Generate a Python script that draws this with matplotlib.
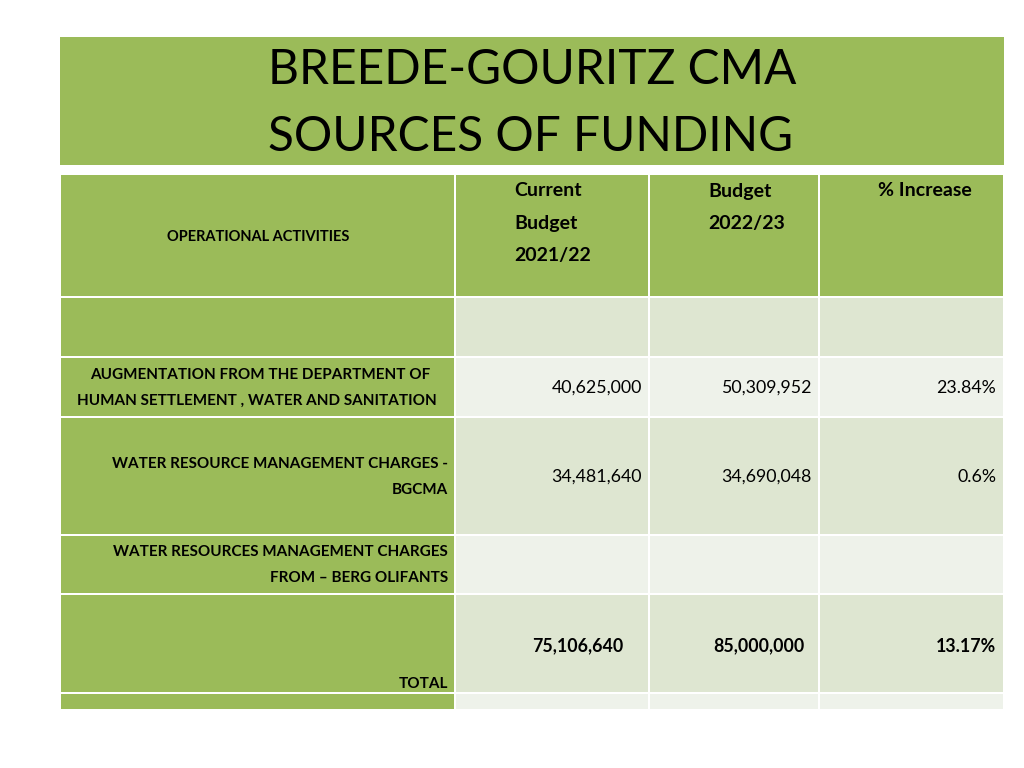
import matplotlib.pyplot as plt
from matplotlib.patches import Rectangle

plt.rcParams['font.family'] = ['Lato', 'DejaVu Sans']

title_lines = ['BREEDE-GOURITZ CMA', 'SOURCES OF FUNDING']
header_first = 'OPERATIONAL ACTIVITIES'
col_headers = [['Current', 'Budget', '2021/22'], ['Budget', '2022/23'], ['% Increase']]
row_labels = [
    [],
    ['AUGMENTATION FROM THE DEPARTMENT OF', 'HUMAN SETTLEMENT , WATER AND SANITATION'],
    ['WATER RESOURCE MANAGEMENT CHARGES -', 'BGCMA'],
    ['WATER RESOURCES MANAGEMENT CHARGES', 'FROM \u2013 BERG OLIFANTS'],
    ['TOTAL'],
    [],
]
budget_2122 = ['', '40,625,000', '34,481,640', '', '75,106,640', '']
budget_2223 = ['', '50,309,952', '34,690,048', '', '85,000,000', '']
pct_increase = ['', '23.84%', '0.6%', '', '13.17%', '']

green = '#9BBB59'
dark_row = '#DEE6D1'
light_row = '#EEF2EA'

# layout in pixels
col_x = [60, 455, 649, 819, 1004]
row_y = [297, 357, 417, 535, 594, 693, 710]

fig = plt.figure(figsize=(10.24, 7.68), dpi=100)
ax = fig.add_axes([0, 0, 1, 1])
ax.set_xlim(0, 1024)
ax.set_ylim(768, 0)
ax.axis('off')

# title box
ax.add_patch(Rectangle((60, 37), 944, 128, color=green, lw=0))
ax.text(268, 70, title_lines[0], fontsize=34.5, ha='left', va='center')
ax.text(268, 137, title_lines[1], fontsize=34.5, ha='left', va='center')

def cell(x0, x1, y0, y1, c):
    ax.add_patch(Rectangle((x0 + 1, y0 + 1), x1 - x0 - 2, y1 - y0 - 2, color=c, lw=0))

# header row
for j in range(4):
    cell(col_x[j], col_x[j + 1], 174, row_y[0], green)
ax.text(258, 237, header_first, fontsize=10.5, fontweight='bold', ha='center', va='center')
hx = [514, 708, 878]
for j, lines in enumerate(col_headers):
    for k, s in enumerate(lines):
        ax.text(hx[j], 191 + 32 * k, s, fontsize=14, fontweight='bold', ha='left', va='center')

# body rows
for i in range(len(row_y) - 1):
    y0, y1 = row_y[i], row_y[i + 1]
    c = dark_row if i % 2 == 0 else light_row
    cell(col_x[0], col_x[1], y0, y1, green)
    for j in range(1, 4):
        cell(col_x[j], col_x[j + 1], y0, y1, c)

# row labels
fs = 11
ax.text(260, 375, row_labels[1][0], fontsize=fs, fontweight='bold', ha='center', va='center')
ax.text(257, 401, row_labels[1][1], fontsize=fs, fontweight='bold', ha='center', va='center')
ax.text(448, 464, row_labels[2][0], fontsize=fs, fontweight='bold', ha='right', va='center')
ax.text(448, 490, row_labels[2][1], fontsize=fs, fontweight='bold', ha='right', va='center')
ax.text(448, 552, row_labels[3][0], fontsize=fs, fontweight='bold', ha='right', va='center')
ax.text(448, 578, row_labels[3][1], fontsize=fs, fontweight='bold', ha='right', va='center')
ax.text(448, 684, row_labels[4][0], fontsize=fs, fontweight='bold', ha='right', va='center')

# values
val_y = [0, 388, 477, 0, 646, 0]
for i in range(len(budget_2122)):
    if budget_2122[i] == '':
        continue
    w = 'bold' if i == 4 else 'normal'
    xs = [623, 805, 996] if i == 4 else [642, 812, 996]
    ax.text(xs[0], val_y[i], budget_2122[i], fontsize=12.8, fontweight=w, ha='right', va='center')
    ax.text(xs[1], val_y[i], budget_2223[i], fontsize=12.8, fontweight=w, ha='right', va='center')
    ax.text(xs[2], val_y[i], pct_increase[i], fontsize=12.8, fontweight=w, ha='right', va='center')

fig.savefig('out.png', dpi=100, facecolor='white')
